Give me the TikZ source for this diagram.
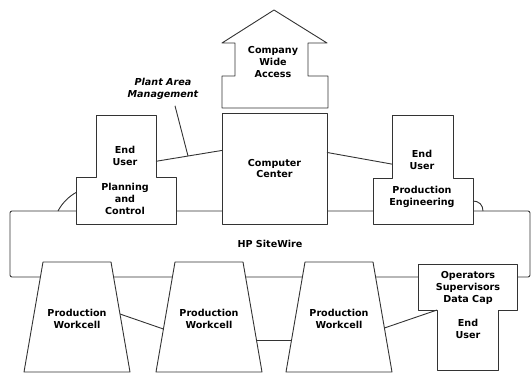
\documentclass[tikz,border=0pt]{standalone}
\usepackage{fontspec}
\setmainfont{DejaVu Sans}

\begin{document}
\begin{tikzpicture}[
  x=1pt, y=-1pt,
  font=\bfseries\fontsize{9.6}{11.8}\selectfont,
  part/.style={rectangle, inner sep=0pt, outer sep=0pt},
  cellpart/.style={part, minimum width=68pt, minimum height=110pt},
  outline/.style={draw=black!80, line width=0.9pt, fill=white, line join=round},
  box/.style={outline, rectangle, inner sep=0pt, outer sep=0pt, align=center},
  lbl/.style={align=center, inner sep=0pt},
  link/.style={draw=black!80, line width=0.9pt}
]
\useasboundingbox (0,0) rectangle (532,373);

% plant network
\node[box, rounded corners=2pt, minimum width=520pt, minimum height=66pt] (sw) at (270,244) {HP SiteWire};

% workcells
\node[cellpart] (wc1) at (77,317) {};
\node[cellpart] (wc2) at (209,317) {};
\node[cellpart] (wc3) at (339,317) {};
\foreach \c in {wc1,wc2,wc3} {
  \draw[outline] ([xshift=-19pt]\c.south west) -- (\c.north west) -- (\c.north east)
    -- ([xshift=19pt]\c.south east) -- cycle;
  \node[lbl] (\c txt) at ([yshift=-2pt]\c.center) {Production\\Workcell};
}

% operator station
\node[part, minimum width=99pt, minimum height=46pt] (ops) at (467.5,287) {};
\node[part, minimum width=61pt, minimum height=60pt] (eu3) at (467.5,340) {};
\draw[outline] (eu3.south west) -- (eu3.north west) -- (ops.south west) -- (ops.north west)
  -- (ops.north east) -- (ops.south east) -- (eu3.north east) -- (eu3.south east) -- cycle;
\node[lbl] (opstxt) at (468,288) {Operators\\Supervisors\\Data Cap};
\node[lbl] (eu3txt) at (468,329) {End\\User};

% planning and control
\node[part, minimum width=60pt, minimum height=62pt] (eu1) at (126,146) {};
\node[part, minimum width=100pt, minimum height=47pt] (pc) at (126,200.5) {};
\draw[outline] (pc.south west) -- (pc.north west) -- (eu1.south west) -- (eu1.north west)
  -- (eu1.north east) -- (eu1.south east) -- (pc.north east) -- (pc.south east) -- cycle;
\node[lbl] (eu1txt) at (125,156) {End\\User};
\node[lbl] (pctxt) at (125,199) {Planning\\and\\Control};

% production engineering
\node[part, minimum width=61pt, minimum height=63pt] (eu2) at (422.5,146.5) {};
\node[part, minimum width=100pt, minimum height=46pt] (pe) at (423,201) {};
\draw[outline] (pe.south west) -- (pe.north west) -- (eu2.south west) -- (eu2.north west)
  -- (eu2.north east) -- (eu2.south east) -- (pe.north east) -- (pe.south east) -- cycle;
\node[lbl] (eu2txt) at (422,160) {End\\User};
\node[lbl] (petxt) at (422,197) {Production\\Engineering};

% computer center and company wide access
\node[box, minimum width=105pt, minimum height=111pt] (cc) at (274.5,168.5) {Computer\\Center};
\node[part, minimum width=106pt, minimum height=32pt] (base) at (275,92) {};
\draw[outline] (base.south west) -- (base.north west) -- (235,76) -- (235,43) -- (222,43)
  -- (274,10) -- (327,43) -- (308,43) -- (308,76) -- (base.north east) -- (base.south east) -- cycle;
\node[lbl] (cwa) at (273,62) {Company\\Wide\\Access};

\node[lbl, font=\bfseries\itshape\fontsize{9.6}{11.8}\selectfont] (pam) at (163,89) {Plant Area\\Management};

% links
\draw[link] (eu1.-27) -- coordinate[pos=0.485] (pamtip) (cc.161);
\draw[link] ([xshift=12pt,yshift=-6pt]pam.south) -- (pamtip);
\draw[link] (cc.17) -- (eu2.210);
\draw[link] ([xshift=48pt]sw.north west) .. controls +(4,-8) and +(-6,3) .. (pc.171);
\draw[link] (pe.east) .. controls +(6,0) and +(0,-6) .. ([xshift=-47pt]sw.north east);
\draw[link] ([xshift=9pt,yshift=3pt]wc1.east) -- ([xshift=-11.6pt,yshift=-12pt]wc2.west);
\draw[link] ([xshift=13.5pt,yshift=-23pt]wc2.east) -- ([xshift=-13.5pt,yshift=-23pt]wc3.west);
\draw[link] ([xshift=11.4pt,yshift=-11pt]wc3.east) -- (eu3.north west);
\end{tikzpicture}
\end{document}
